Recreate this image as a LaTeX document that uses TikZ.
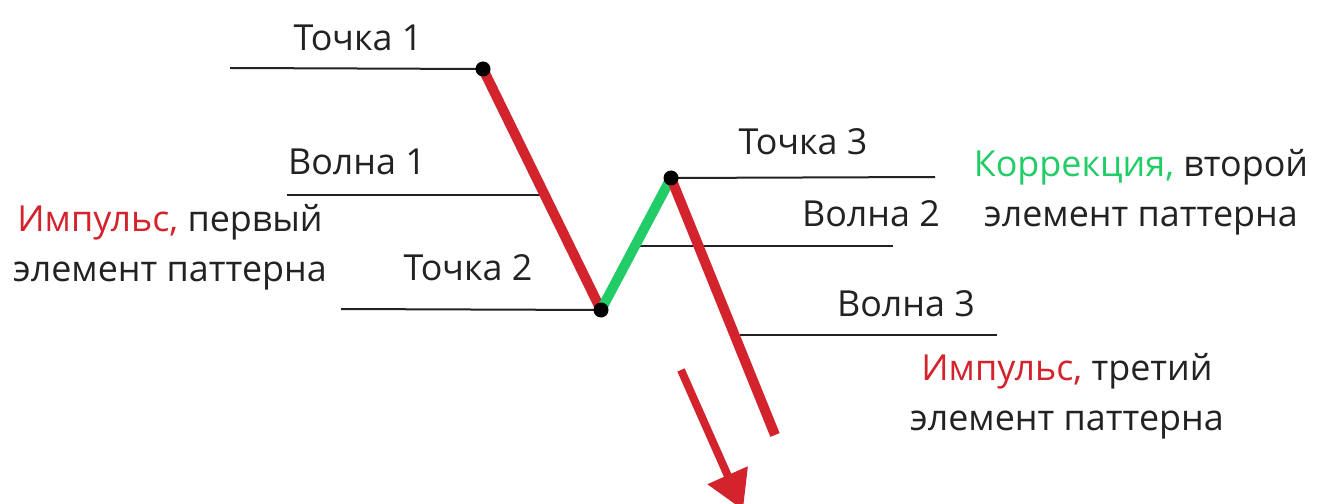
\documentclass[tikz,border=0pt]{standalone}
\usepackage{fontspec}
\setmainfont{Open Sans}
\usetikzlibrary{arrows.meta}
\definecolor{myred}{HTML}{D3242D}
\definecolor{mygreen}{HTML}{22CC66}
\definecolor{mytext}{HTML}{222222}
\begin{document}
\begin{tikzpicture}[x=1bp,y=-1bp,
  lbl/.style={font=\fontsize{36}{50}\selectfont, text=mytext, inner sep=0pt},
  desc/.style={lbl, align=center},
  level/.style={line width=2bp, mytext},
  wave/.style={line width=10bp},
  dot/.style={circle, fill=black, inner sep=0pt, minimum size=15bp}]
\useasboundingbox (0,0) rectangle (1320,504);
% points
\coordinate (p1) at (483,69);
\coordinate (p2) at (601,310);
\coordinate (p3) at (671,178);
\coordinate (p4) at (775,435);
% level line ends
\coordinate (l1) at (230,68);
\coordinate (l2) at (341,309);
\coordinate (l3) at (935,177);
\coordinate (w1a) at (287,195);
\coordinate (w1b) at (540,195);
\coordinate (w2a) at (637,246);
\coordinate (w2b) at (893,246);
\coordinate (w3a) at (740,335);
\coordinate (w3b) at (997,335);
\coordinate (aa) at (681,370);
\coordinate (ab) at (743,510);
% level lines
\draw[level] (l1) -- (p1);
\draw[level] (l2) -- (p2);
\draw[level] (p3) -- (l3);
\draw[level] (w1a) -- (w1b);
\draw[level] (w2a) -- (w2b);
\draw[level] (w3a) -- (w3b);
% waves
\draw[wave, myred] (p1) -- (p2);
\draw[wave, mygreen] (p2) -- (p3);
\draw[wave, myred] (p3) -- (p4);
% arrow
\draw[line width=8bp, myred, -{Triangle[length=38bp,width=42bp]}] (aa) -- (ab);
% dots
\node[dot] (d1) at (p1) {};
\node[dot] (d2) at (p2) {};
\node[dot] (d3) at (p3) {};
% labels
\node[lbl] (t1) at (358,38) {Точка 1};
\node[lbl] (v1) at (357,162) {Волна 1};
\node[lbl] (t3) at (803,142) {Точка 3};
\node[lbl] (v2) at (871,214) {Волна 2};
\node[lbl] (t2) at (468,268) {Точка 2};
\node[lbl] (v3) at (906,304) {Волна 3};
\node[desc] (i1) at (170,247) {\textcolor{myred}{Импульс,} первый\\элемент паттерна};
\node[desc] (k2) at (1141,192) {\textcolor{mygreen}{Коррекция,} второй\\элемент паттерна};
\node[desc] (i3) at (1067,396) {\textcolor{myred}{Импульс,} третий\\элемент паттерна};
\end{tikzpicture}
\end{document}
